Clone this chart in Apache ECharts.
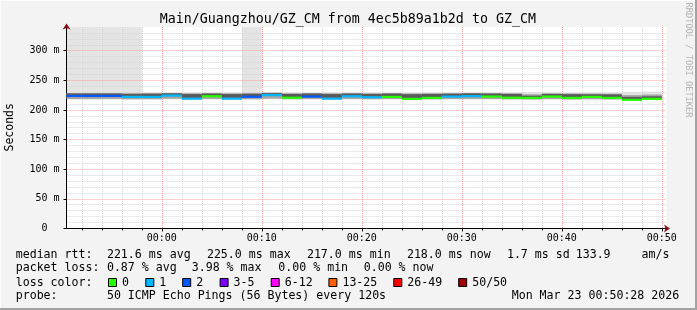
<!DOCTYPE html>
<html><head><meta charset="utf-8">
<script src="https://cdn.jsdelivr.net/npm/echarts@6/dist/echarts.min.js"></script>
<style>
html,body{margin:0;padding:0;background:#f3f3f3;overflow:hidden;}
#wrap{position:relative;width:697px;height:310px;background:#f3f3f3;box-shadow:inset -2px -2px 0 #a2a2a2, inset 1px 1px 0 #fdfdfd;}
#chart{position:absolute;left:0;top:0;width:697px;height:310px;}
</style></head><body><div id="wrap"><div id="chart"></div></div>
<script>
// ---- data ----
const titleText = 'Main/Guangzhou/GZ_CM from 4ec5b89a1b2d to GZ_CM';
const yTitle = 'Seconds';
const sideText = 'RRDTOOL / TOBI OETIKER';
const stepStart = ['23:50','23:52','23:54','23:56','23:58','00:00','00:02','00:04','00:06','00:08',
  '00:10','00:12','00:14','00:16','00:18','00:20','00:22','00:24','00:26','00:28',
  '00:30','00:32','00:34','00:36','00:38','00:40','00:42','00:44','00:46','00:48'];
const medianMs = [223.6,223.6,223.6,222.0,222.0,224.2,219.1,223.1,219.1,222.2,
  225.0,220.6,222.5,219.1,223.1,221.4,222.0,218.6,220.3,222.5,
  223.3,222.5,220.6,220.3,222.5,220.3,222.0,220.3,217.0,218.6];
const lostPings = [2,2,2,1,1,1,1,0,1,2, 1,0,2,1,1,1,0,0,0,1, 1,0,0,0,0,0,0,0,0,0];
const smokeMin = [217.3,217.3,217.5,217.0,217.2,217.8,216.8,217.5,216.8,217.2,
  218.0,217.2,217.5,216.8,217.5,217.2,217.3,216.6,217.0,217.5,
  217.5,217.3,217.0,216.9,217.3,216.9,217.3,216.9,215.8,216.6];
const smokeMax = [500,500,500,500,229.0,229.2,228.8,229.0,228.8,500,
  229.5,228.8,229.0,228.8,229.0,228.8,229.0,228.6,228.8,229.0,
  229.2,229.0,228.8,230.2,228.8,228.6,228.6,228.4,230.0,230.8];
const smokeP10 = [218.4,218.4,218.6,218.0,218.2,219.0,217.6,218.6,217.6,218.2,
  219.2,218.2,218.6,217.6,218.6,218.2,218.4,217.4,218.0,218.6,
  218.6,218.4,218.0,217.8,218.4,217.8,218.2,217.8,216.4,217.4];
const smokeP90 = [228.4,228.4,228.4,228.0,228.2,228.6,228.0,228.4,228.0,228.2,
  229.0,228.0,228.4,228.0,228.4,228.0,228.4,227.8,228.0,228.2,
  228.6,228.4,228.0,226.5,228.0,227.8,227.6,227.6,225.0,226.0];
const smokeQ3 = [227.8,227.8,227.8,227.2,227.4,228.0,226.8,227.6,226.8,227.4,
  228.4,227.0,227.6,226.8,227.6,227.0,227.6,226.6,227.0,227.4,
  227.8,227.6,227.0,224.0,227.0,226.6,226.4,226.2,222.0,223.0];
const yTickVals = [0,50,100,150,200,250,300];
const xTickVals = [0,10,20,30,40,50];
const xTickLabels = ['00:00','00:10','00:20','00:30','00:40','00:50'];
const lossColors = ['#26ff00','#00b8ff','#0059ff','#7e00ff','#ff00ff','#ff5e00','#ff0000','#a10000'];
const lossLabels = ['0','1','2','3-5','6-12','13-25','26-49','50/50'];
const rowRtt = ['median rtt:','221.6 ms avg','225.0 ms max','217.0 ms min','218.0 ms now','1.7 ms sd','133.9','am/s'];
const rowLoss = ['packet loss:','0.87 % avg','3.98 % max','0.00 % min','0.00 % now'];
const rowColorHead = 'loss color:';
const rowProbe = ['probe:','50 ICMP Echo Pings (56 Bytes) every 120s','Mon Mar 23 00:50:28 2026'];

// ---- layout / style ----
const X_MIN = -9.5333, X_MAX = 50.4667, Y_MAX = 340, STEP = 2;
const MONO = '"DejaVu Sans Mono", "Liberation Mono", monospace';
const GRID = {left: 66.5, top: 27, width: 600, height: 201.4};
const MAJOR = '#f4a0a0', MINOR = '#d4d4d4';

function toMin(s){ const [h,m] = s.split(':').map(Number); return h === 23 ? m - 60 : h*60 + m; }
const minorX = []; for (let m = -8; m <= 48; m += 2) if (m % 10 !== 0) minorX.push(m);
const minorY = []; for (let v = 10; v < Y_MAX; v += 10) if (v % 50 !== 0) minorY.push(v);

function band(lowArr, highArr, color, z){
  return {
    type:'custom', z: z, silent:true, xAxisIndex:0, yAxisIndex:0,
    data: stepStart.map((s,i)=>[toMin(s), toMin(s)+STEP, lowArr[i], highArr[i]]),
    encode:{x:[0,1], y:[2,3]},
    renderItem(params, api){
      const p0 = api.coord([api.value(0), api.value(3)]);
      const p1 = api.coord([api.value(1), api.value(2)]);
      const cs = params.coordSys;
      const r = echarts.graphic.clipRectByRect(
        {x:p0[0], y:p0[1], width:p1[0]-p0[0], height:p1[1]-p0[1]},
        {x:cs.x, y:cs.y, width:cs.width, height:cs.height});
      return r && {type:'rect', shape:r, style:{fill:color}};
    }
  };
}
const medianSeries = {
  type:'custom', z:4, silent:true, xAxisIndex:0, yAxisIndex:0,
  data: stepStart.map((s,i)=>[toMin(s), toMin(s)+STEP, medianMs[i], lostPings[i]]),
  encode:{x:[0,1], y:2},
  renderItem(params, api){
    const p0 = api.coord([api.value(0), api.value(2)]);
    const p1 = api.coord([api.value(1), api.value(2)]);
    const cs = params.coordSys;
    const x0 = Math.max(p0[0], cs.x), x1 = Math.min(p1[0], cs.x + cs.width);
    return {type:'rect', shape:{x:x0, y:p0[1]-1.1, width:x1-x0, height:2.2},
      style:{fill: lossColors[api.value(3)]}};
  }
};

const txt = (text, x, y, size, extra) => Object.assign({
  type:'text', x:x, y:y, silent:true,
  style:Object.assign({text:text, fill:'#000', font: size + 'px ' + MONO,
    textVerticalAlign:'middle', verticalAlign:'middle', textAlign:'left', align:'left'}, extra && extra.style || {})
}, extra && extra.el || {});

const graphics = [];
graphics.push(txt(titleText, 347.8, 19.8, 13.3, {style:{textAlign:'center', align:'center'}}));
graphics.push(txt(yTitle, 10.5, 127.3, 11.5, {style:{textAlign:'center', align:'center'}, el:{rotation:Math.PI/2}}));
graphics.push(txt(sideText, 688, 60, 8.7, {style:{textAlign:'center', align:'center', fill:'#b4b4b4'}, el:{rotation:-Math.PI/2}}));
const F = 11.6;
const rttX = [15.7,106.9,206.9,306.9,406.9,506.9,575.7,641.5];
rowRtt.forEach((t,i)=>graphics.push(txt(t, rttX[i], 255, F)));
const lossX = [15.7,106.9,191.7,278.3,363.7];
rowLoss.forEach((t,i)=>graphics.push(txt(t, lossX[i], 268.3, F)));
graphics.push(txt(rowColorHead, 15.7, 282.5, F));
const boxX = [108,145.3,182.2,219.6,270.7,328.4,393.3,458.2];
lossLabels.forEach((l,i)=>{
  graphics.push({type:'rect', silent:true, shape:{x:boxX[i]+0.5, y:278.5, width:8, height:8},
    style:{fill:lossColors[i], stroke:'#000', lineWidth:1}});
  graphics.push(txt(l, boxX[i]+14, 282.5, F));
});
const probeX = [15.7,106.9,511.7];
rowProbe.forEach((t,i)=>graphics.push(txt(t, probeX[i], 296, F)));

const axisBase = {type:'value', min:X_MIN, max:X_MAX, gridIndex:0, position:'bottom'};
const yBase = {type:'value', min:0, max:Y_MAX, gridIndex:0, position:'left'};
const option = {
  animation:false,
  backgroundColor:'transparent',
  grid:{left:GRID.left, top:GRID.top, width:GRID.width, height:GRID.height, show:true, backgroundColor:'#ffffff', borderWidth:0},
  xAxis:[
    Object.assign({}, axisBase, {z:1,
      axisLine:{show:true, onZero:false, lineStyle:{color:'#000', width:1}},
      axisTick:{show:true, customValues:xTickVals, length:3, lineStyle:{color:'#000'}},
      axisLabel:{show:true, customValues:xTickVals, margin:5, color:'#000', fontFamily:MONO, fontSize:10,
        formatter:(v)=>xTickLabels[xTickVals.indexOf(Math.round(v))] || ''},
      splitLine:{show:true, lineStyle:{color:MAJOR, width:1, type:[1,1]}}}),
    Object.assign({}, axisBase, {z:0.5,
      axisLine:{show:false, onZero:false},
      axisTick:{show:true, customValues:minorX, length:2, lineStyle:{color:'#000'}},
      axisLabel:{show:false, customValues:minorX},
      splitLine:{show:true, lineStyle:{color:MINOR, width:1, type:[1,1]}}}),
    Object.assign({}, axisBase, {z:5,
      axisLine:{show:true, onZero:false, symbol:['none','arrow'], symbolSize:[6,6], symbolOffset:[0,3.5],
        lineStyle:{color:'#7f1111', width:0}},
      axisTick:{show:false}, axisLabel:{show:false}, splitLine:{show:false}})
  ],
  yAxis:[
    Object.assign({}, yBase, {z:1,
      axisLine:{show:true, onZero:false, lineStyle:{color:'#000', width:1}},
      axisTick:{show:true, customValues:yTickVals, length:3, lineStyle:{color:'#000'}},
      axisLabel:{show:true, customValues:yTickVals, margin:7, color:'#000', fontFamily:MONO, fontSize:10,
        formatter:(v)=> v === 0 ? '0  ' : v + ' m'},
      splitLine:{show:true, lineStyle:{color:MAJOR, width:1, type:[1,1]}}}),
    Object.assign({}, yBase, {z:0.5,
      axisLine:{show:false, onZero:false},
      axisTick:{show:true, inside:true, customValues:minorY, length:1, lineStyle:{color:'rgba(0,0,0,0)'}},
      axisLabel:{show:false, customValues:minorY},
      splitLine:{show:true, lineStyle:{color:MINOR, width:1, type:[1,1]}}}),
    Object.assign({}, yBase, {z:5,
      axisLine:{show:true, onZero:false, symbol:['none','arrow'], symbolSize:[6,6], symbolOffset:[0,3.5],
        lineStyle:{color:'#7f1111', width:0}},
      axisTick:{show:false}, axisLabel:{show:false}, splitLine:{show:false}})
  ],
  series:[
    band(smokeMin, smokeMax, '#e4e4e4', 0),
    band(smokeP10, smokeP90, '#a4a4a4', 2),
    band(medianMs, smokeQ3, '#5a5a5a', 3),
    medianSeries
  ],
  graphic:{elements:graphics}
};
const chart = echarts.init(document.getElementById('chart'), null, {renderer:'canvas'});
chart.setOption(option);
</script></body></html>
